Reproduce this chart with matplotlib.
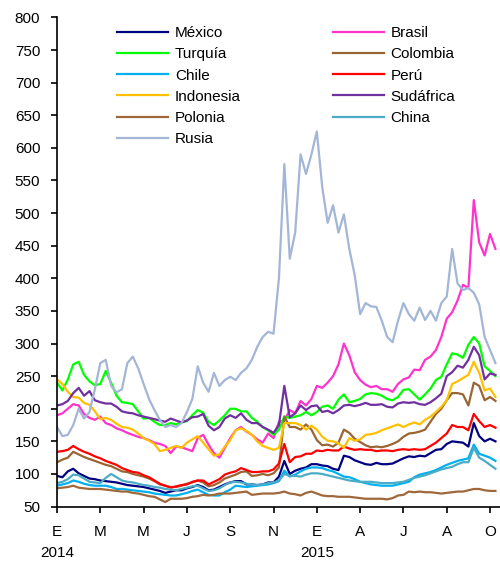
import matplotlib.pyplot as plt
import numpy as np

plt.rcParams['font.family'] = ['Liberation Sans', 'DejaVu Sans']

# readings every quarter month, starting January 2014 (x = months since Jan 2014)
meses = np.arange(0, 20.5, 0.25)

mexico = [97, 95, 104, 108, 101, 97, 93, 92, 90, 89, 88, 87, 85, 83, 82, 81,
          80, 78, 76, 74, 71, 73, 75, 75, 78, 80, 83, 80, 75, 76, 80, 84,
          87, 89, 89, 84, 84, 83, 84, 87, 87, 96, 120, 100, 105, 108, 110, 115,
          115, 113, 112, 108, 106, 128, 126, 121, 118, 115, 114, 117, 115, 115, 116, 120,
          124, 127, 126, 128, 127, 132, 137, 138, 146, 150, 149, 148, 142, 178, 158, 150,
          154, 150]
brasil = [190, 193, 200, 207, 205, 192, 186, 183, 188, 178, 175, 170, 167, 163, 160, 157,
          155, 152, 148, 146, 143, 132, 142, 141, 138, 135, 155, 160, 145, 132, 125, 140,
          155, 167, 172, 165, 160, 153, 148, 162, 155, 180, 182, 198, 193, 212, 205, 215,
          235, 232, 240, 250, 268, 300, 282, 256, 244, 237, 233, 235, 230, 230, 226, 238,
          245, 248, 260, 259, 275, 280, 290, 310, 338, 348, 366, 390, 385, 520, 455, 435,
          468, 445]
turquia = [240, 228, 245, 268, 272, 252, 242, 236, 238, 258, 240, 220, 210, 209, 207, 196,
           185, 186, 180, 175, 175, 178, 176, 179, 181, 190, 198, 194, 180, 175, 182, 190,
           200, 200, 196, 196, 186, 180, 172, 167, 160, 168, 188, 186, 188, 190, 195, 190,
           195, 203, 205, 200, 214, 222, 210, 212, 215, 222, 224, 223, 220, 215, 213, 218,
           229, 230, 222, 214, 222, 231, 244, 249, 268, 285, 283, 278, 298, 310, 300, 265,
           258, 250]
colombia = [118, 122, 125, 134, 130, 126, 123, 120, 117, 114, 112, 108, 104, 103, 100, 98,
            96, 93, 89, 84, 82, 80, 80, 82, 85, 87, 90, 87, 81, 83, 87, 93,
            96, 99, 103, 104, 97, 98, 100, 98, 101, 110, 188, 172, 172, 168, 176, 168,
            152, 144, 145, 142, 148, 168, 163, 154, 149, 144, 141, 142, 141, 143, 146, 150,
            157, 162, 163, 165, 168, 180, 192, 200, 213, 224, 224, 222, 205, 240, 235, 213,
            218, 212]
chile = [82, 84, 86, 90, 88, 85, 83, 82, 82, 82, 80, 77, 77, 76, 75, 74,
         73, 72, 70, 69, 68, 67, 67, 69, 71, 74, 76, 72, 68, 67, 67, 72,
         76, 82, 81, 80, 81, 82, 83, 84, 86, 89, 105, 96, 99, 104, 108, 110,
         110, 109, 106, 104, 100, 96, 95, 92, 88, 86, 84, 83, 82, 82, 82, 84,
         86, 88, 95, 99, 101, 103, 106, 110, 114, 117, 120, 122, 124, 145, 131, 128,
         125, 120]
peru = [134, 135, 137, 143, 138, 134, 131, 127, 124, 120, 117, 114, 109, 106, 103, 102,
        98, 95, 90, 85, 82, 79, 81, 83, 84, 88, 90, 90, 84, 88, 92, 99,
        102, 104, 109, 106, 103, 103, 104, 104, 107, 116, 146, 118, 126, 127, 131, 131,
        136, 135, 137, 136, 136, 142, 139, 137, 138, 137, 137, 135, 136, 136, 135, 137,
        138, 137, 138, 137, 138, 143, 148, 155, 162, 175, 172, 172, 167, 192, 181, 172,
        175, 171]
indonesia = [245, 238, 226, 218, 217, 209, 206, 196, 184, 186, 183, 177, 172, 171, 168, 162,
             155, 151, 146, 135, 137, 140, 143, 140, 148, 153, 158, 148, 138, 128, 130, 142,
             152, 167, 170, 166, 160, 150, 143, 140, 137, 140, 178, 178, 178, 175, 168, 174,
             168, 157, 151, 150, 147, 140, 155, 151, 153, 160, 161, 163, 167, 170, 173, 176,
             172, 176, 179, 176, 183, 188, 195, 203, 213, 238, 242, 247, 252, 272, 255, 228,
             231, 218]
sudafrica = [205, 207, 212, 224, 232, 220, 227, 213, 210, 208, 208, 203, 196, 194, 193, 190,
             188, 186, 184, 182, 180, 185, 182, 179, 182, 187, 188, 192, 174, 167, 172, 185,
             190, 186, 193, 183, 178, 178, 172, 168, 163, 175, 235, 187, 193, 205, 198, 204,
             205, 195, 197, 193, 198, 205, 206, 204, 206, 209, 206, 206, 207, 203, 202, 208,
             210, 209, 210, 207, 206, 210, 216, 223, 250, 256, 266, 263, 275, 295, 282, 245,
             254, 252]
polonia = [78, 79, 80, 82, 79, 78, 77, 77, 77, 76, 75, 74, 73, 73, 71, 70,
           68, 66, 65, 61, 57, 62, 62, 62, 63, 65, 66, 68, 67, 68, 70, 70,
           70, 71, 72, 73, 68, 69, 70, 70, 70, 71, 73, 70, 69, 67, 71, 73,
           70, 67, 66, 66, 65, 65, 65, 64, 63, 62, 62, 62, 62, 61, 63, 67,
           68, 73, 72, 73, 72, 72, 71, 70, 71, 72, 73, 73, 75, 77, 77, 75,
           74, 74]
china = [86, 88, 92, 99, 98, 93, 88, 87, 86, 94, 100, 95, 90, 88, 87, 85,
         83, 82, 80, 79, 77, 76, 75, 77, 79, 81, 82, 78, 74, 75, 78, 83,
         87, 88, 87, 85, 84, 83, 84, 86, 87, 90, 100, 97, 97, 96, 99, 101,
         101, 100, 98, 96, 94, 92, 90, 89, 88, 88, 88, 87, 86, 86, 86, 87,
         88, 91, 94, 96, 98, 101, 104, 107, 109, 111, 115, 118, 118, 140, 125, 120,
         114, 108]
rusia = [172, 158, 160, 175, 200, 185, 195, 230, 270, 275, 235, 225, 230, 270, 280, 262,
         238, 215, 198, 183, 172, 175, 172, 178, 195, 215, 265, 240, 226, 255, 235, 244,
         249, 244, 255, 262, 275, 295, 310, 318, 315, 400, 575, 430, 470, 590, 560, 590,
         625, 540, 485, 512, 470, 498, 445, 405, 345, 362, 357, 356, 335, 310, 302, 335,
         362, 345, 335, 355, 336, 350, 335, 362, 372, 445, 392, 382, 385, 378, 360, 310,
         290, 270]

tick_pos = [0, 2, 4, 6, 8, 10, 12, 14, 16, 18, 20]
tick_labels = ["E", "M", "M", "J", "S", "N", "E", "A", "J", "A", "O"]
years = [(0, "2014"), (12, "2015")]

# drawing order as in the source workbook
series = [
    ("México", mexico, "#000080"),
    ("Brasil", brasil, "#FF33CC"),
    ("Turquía", turquia, "#00FF00"),
    ("Colombia", colombia, "#996633"),
    ("Chile", chile, "#00B0F0"),
    ("Perú", peru, "#FF0000"),
    ("Indonesia", indonesia, "#FFC000"),
    ("Sudáfrica", sudafrica, "#7030A0"),
    ("Polonia", polonia, "#A0683A"),
    ("China", china, "#4BACC6"),
    ("Rusia", rusia, "#A3B6D6"),
]

fig = plt.figure(figsize=(5, 5.61), dpi=100)
ax = fig.add_axes([0.114, 0.097, 0.886, 0.872])

handles = {}
for name, vals, color in series:
    handles[name], = ax.plot(meses, vals, color=color, lw=1.6)

ax.set_xlim(0, 20.46)
ax.set_ylim(50, 800)
ax.set_yticks(range(50, 801, 50))
ax.set_xticks(tick_pos)
ax.set_xticklabels(tick_labels)

for side in ("top", "right"):
    ax.spines[side].set_visible(False)
for side in ("left", "bottom"):
    ax.spines[side].set_linewidth(1.2)
ax.tick_params(axis="y", direction="out", length=4, width=1.2, pad=8, labelsize=11)
ax.tick_params(axis="x", direction="out", length=4, width=1.2, pad=9, labelsize=11)

for xpos, txt in years:
    ax.text(xpos, -0.095, txt, transform=ax.get_xaxis_transform(),
            ha="center", va="center", fontsize=11)

# legend filled column-wise: six on the left, five on the right
order = ["México", "Turquía", "Chile", "Indonesia", "Polonia", "Rusia",
         "Brasil", "Colombia", "Perú", "Sudáfrica", "China"]
ax.legend([handles[n] for n in order], order, ncol=2, loc="upper left",
          bbox_to_anchor=(0.135, 0.982), frameon=False, fontsize=11,
          handlelength=3.35, handletextpad=0.45, columnspacing=6.0,
          labelspacing=0.47, borderpad=0, borderaxespad=0)

fig.savefig("out.png", dpi=100)
